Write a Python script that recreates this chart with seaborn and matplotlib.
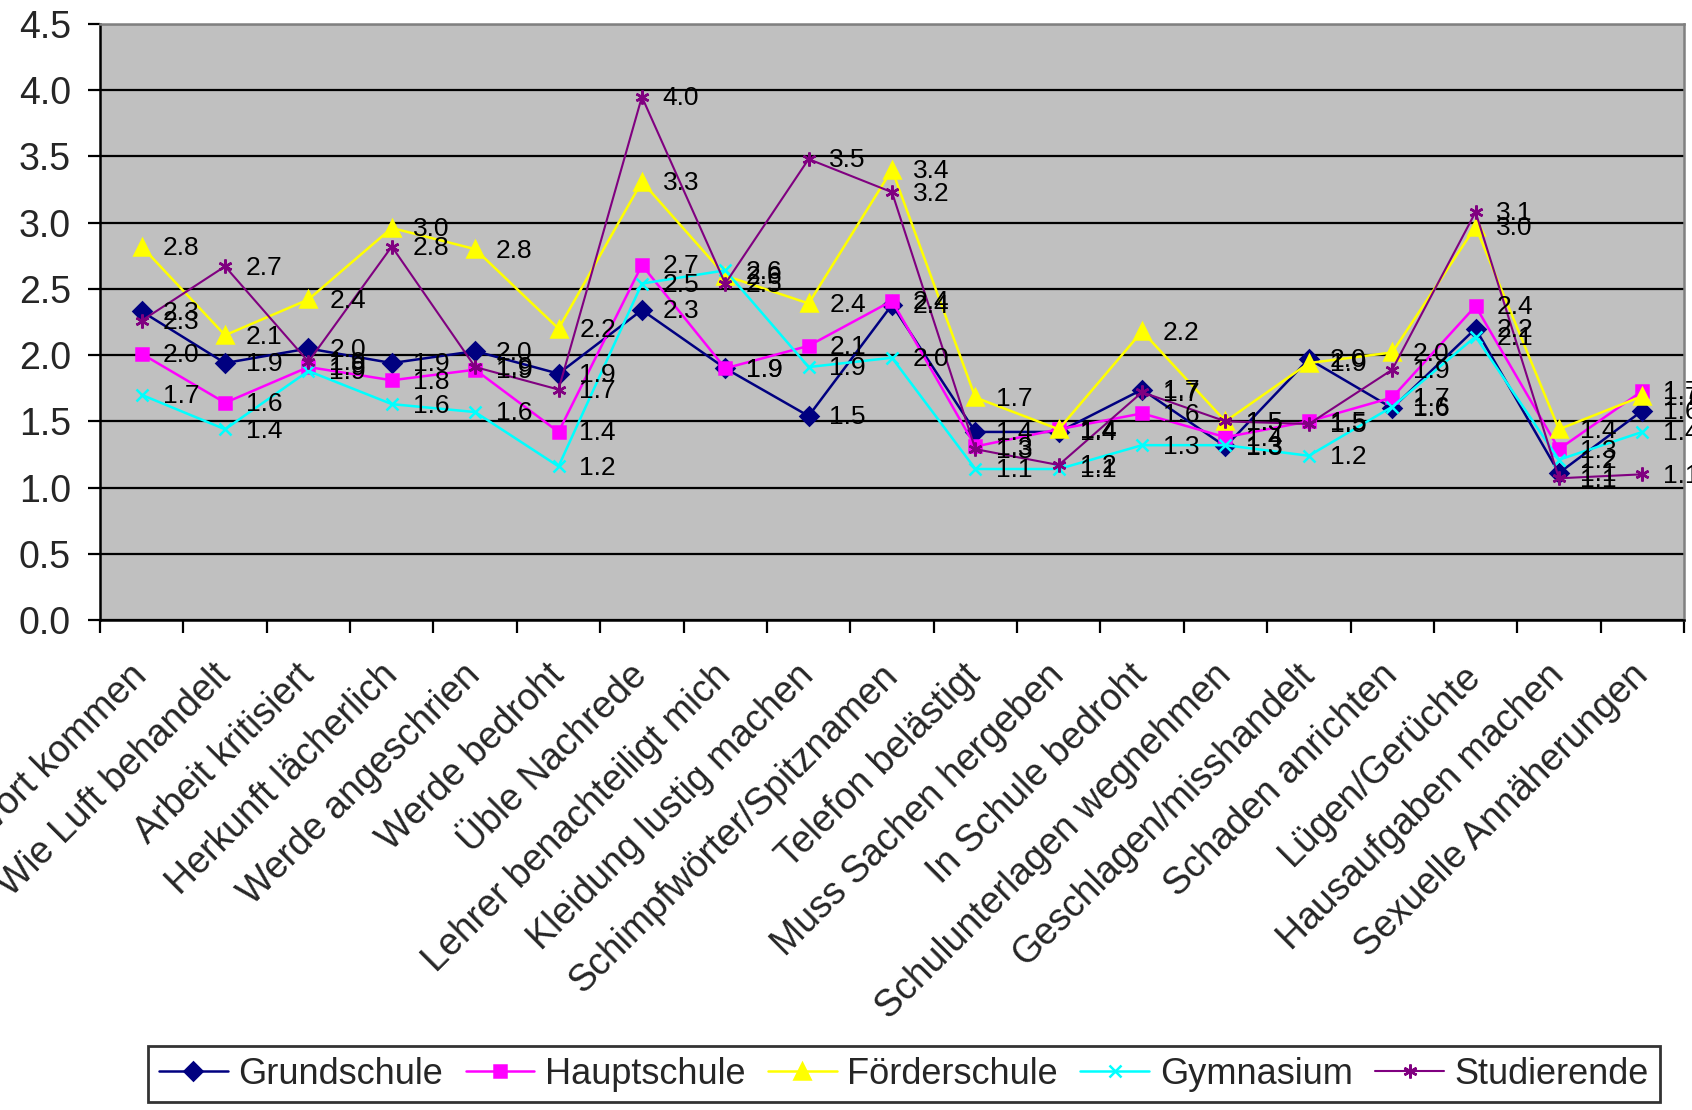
import numpy as np
import pandas as pd
import matplotlib
matplotlib.use("Agg")
import matplotlib.pyplot as plt
import seaborn as sns

categories = [
    "Nicht zu Wort kommen", "Wie Luft behandelt", "Arbeit kritisiert",
    "Herkunft lächerlich", "Werde angeschrien", "Werde bedroht",
    "Üble Nachrede", "Lehrer benachteiligt mich", "Kleidung lustig machen",
    "Schimpfwörter/Spitznamen", "Telefon belästigt", "Muss Sachen hergeben",
    "In Schule bedroht", "Schulunterlagen wegnehmen", "Geschlagen/misshandelt",
    "Schaden anrichten", "Lügen/Gerüchte", "Hausaufgaben machen",
    "Sexuelle Annäherungen",
]

grundschule = [2.33, 1.94, 2.05, 1.94, 2.03, 1.86, 2.34, 1.90, 1.54, 2.38,
               1.42, 1.42, 1.74, 1.31, 1.97, 1.60, 2.20, 1.11, 1.58]
hauptschule = [2.01, 1.64, 1.91, 1.81, 1.89, 1.42, 2.68, 1.90, 2.07, 2.41,
               1.31, 1.44, 1.56, 1.38, 1.50, 1.68, 2.37, 1.29, 1.73]
foerderschule = [2.82, 2.15, 2.42, 2.96, 2.80, 2.20, 3.31, 2.60, 2.39, 3.40,
                 1.68, 1.44, 2.18, 1.50, 1.94, 2.02, 2.97, 1.44, 1.69]
gymnasium = [1.70, 1.44, 1.88, 1.63, 1.57, 1.16, 2.54, 2.64, 1.91, 1.98,
             1.14, 1.14, 1.32, 1.32, 1.24, 1.61, 2.14, 1.21, 1.42]
studierende = [2.26, 2.67, 1.95, 2.82, 1.91, 1.74, 3.95, 2.54, 3.48, 3.23,
               1.29, 1.17, 1.72, 1.50, 1.48, 1.89, 3.08, 1.07, 1.10]

series_names = ["Grundschule", "Hauptschule", "Förderschule", "Gymnasium", "Studierende"]
series_values = [grundschule, hauptschule, foerderschule, gymnasium, studierende]

colors = {"Grundschule": "#000080", "Hauptschule": "#FF00FF",
          "Förderschule": "#FFFF00", "Gymnasium": "#00FFFF",
          "Studierende": "#800080"}
markers = {"Grundschule": "D", "Hauptschule": "s", "Förderschule": "^",
           "Gymnasium": "x", "Studierende": (6, 2, 0)}
msizes = {"Grundschule": 9, "Hauptschule": 9, "Förderschule": 11,
          "Gymnasium": 9, "Studierende": 10}
lwidths = {"Grundschule": 1.8, "Hauptschule": 1.8, "Förderschule": 1.8,
           "Gymnasium": 1.8, "Studierende": 1.5}

sns.set_theme(style="white")
plt.rcParams["font.family"] = ["Liberation Sans", "DejaVu Sans"]

fig = plt.figure(figsize=(16.92, 11.10), dpi=100)
ax = fig.add_axes([100 / 1692, 1 - 620 / 1110, 1584 / 1692, 596 / 1110])
ax.set_facecolor("#C0C0C0")

handles = []
for k, (name, vals) in enumerate(zip(series_names, series_values)):
    d = pd.DataFrame({"pos": np.arange(len(vals)), "value": vals})
    c = colors[name]
    sns.lineplot(data=d, x="pos", y="value", color=c, marker=markers[name],
                 markersize=msizes[name], markeredgewidth=1.8,
                 markeredgecolor=c, markerfacecolor=c,
                 linewidth=lwidths[name], ax=ax, sort=False,
                 label=name, legend=False, zorder=3 + k)
    handles.append(ax.get_lines()[-1])

# data labels
for name, vals in zip(series_names, series_values):
    for i, v in enumerate(vals):
        ax.annotate(f"{v:.1f}", (i, v), xytext=(15, -1), textcoords="offset points",
                    ha="left", va="center", fontsize=19, color="black",
                    annotation_clip=False, zorder=10)

ax.set_xlim(-0.5, len(categories) - 0.5)
ax.set_ylim(0, 4.5)
yt = np.arange(0, 4.51, 0.5)
ax.set_yticks(yt)
ax.set_yticklabels([f"{t:.1f}" for t in yt], fontsize=27)
ax.yaxis.grid(True, color="black", linewidth=1.6)
ax.xaxis.grid(False)
ax.set_axisbelow(True)

ax.set_xticks(np.arange(-0.5, len(categories), 1.0))
ax.set_xticklabels([])
ax.set_xticks(np.arange(len(categories)), minor=True)
ax.set_xticklabels(categories, minor=True, rotation=45, ha="right", va="center",
                   rotation_mode="anchor", fontsize=27)
ax.tick_params(axis="x", which="major", direction="out", length=9, width=1.6,
               color="black", bottom=True)
ax.tick_params(axis="x", which="minor", length=0, pad=36, bottom=True)
ax.tick_params(axis="y", direction="out", length=9, width=1.6, color="black",
               pad=12, left=True)
ax.set_xlabel("")
ax.set_ylabel("")

for side in ["left", "bottom"]:
    ax.spines[side].set_color("black")
    ax.spines[side].set_linewidth(1.8)
for side in ["top", "right"]:
    ax.spines[side].set_color("#808080")
    ax.spines[side].set_linewidth(1.8)

lg = fig.legend(handles, series_names, loc="center", ncol=5,
                bbox_to_anchor=(904 / 1692, 1 - 1074 / 1110),
                fontsize=26, frameon=True, fancybox=False, borderpad=0.3,
                handlelength=1.9, handletextpad=0.3, columnspacing=0.62)
lg.get_frame().set_edgecolor("black")
lg.get_frame().set_linewidth(2.0)
lg.get_frame().set_facecolor("white")

fig.savefig("out.png", dpi=100, facecolor="white")
